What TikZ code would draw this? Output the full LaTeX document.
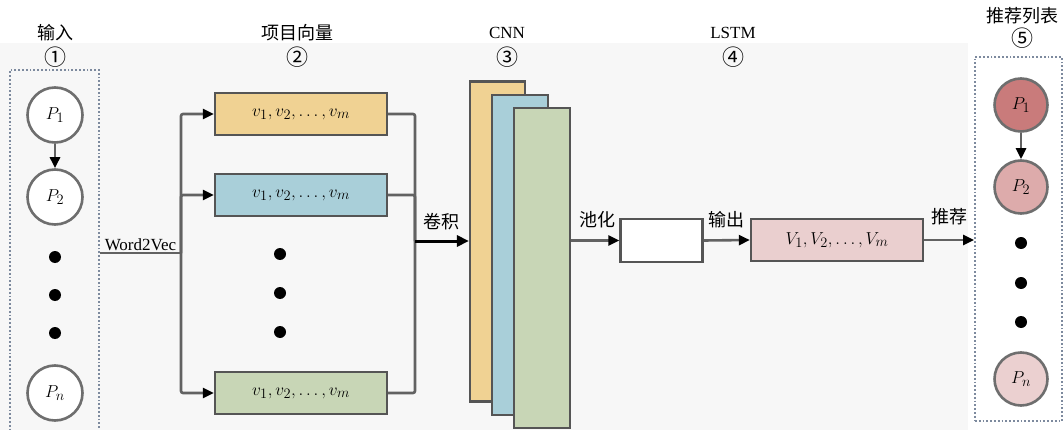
\documentclass[tikz,border=0pt]{standalone}
\usepackage{fontspec}
\setmainfont{Liberation Serif}
\newfontfamily\cjk{Noto Sans CJK SC}
\usetikzlibrary{arrows.meta}
\definecolor{bordr}{HTML}{555555}
\definecolor{lineg}{HTML}{626262}
\definecolor{bgg}{HTML}{F7F7F7}
\definecolor{orangef}{HTML}{F0D293}
\definecolor{bluef}{HTML}{A9CFD9}
\definecolor{greenf}{HTML}{C8D6B6}
\definecolor{pinkf}{HTML}{EACFCF}
\definecolor{rpa}{HTML}{C97B7B}
\definecolor{rpb}{HTML}{DDABAB}
\definecolor{rpn}{HTML}{EBD0D0}
\definecolor{dotb}{HTML}{7D8A9E}
\begin{document}
\begin{tikzpicture}[x=1pt,y=-1pt,
  font=\fontsize{17}{19}\selectfont,
  vecbox/.style={draw=bordr, line width=2.4pt, minimum width=172pt, minimum height=42pt, inner sep=0pt, font=\fontsize{19}{21}\selectfont},
  layer/.style={draw=bordr, line width=2.2pt, minimum width=56pt, minimum height=320pt, inner sep=0pt},
  pcirc/.style={circle, draw=bordr!85, line width=2.6pt, minimum size=55pt, inner sep=0pt, fill=white, font=\fontsize{19}{21}\selectfont},
  rcirc/.style={circle, draw=bordr!85, line width=2.6pt, minimum size=53pt, inner sep=0pt, font=\fontsize{19}{21}\selectfont},
  bigdot/.style={circle, fill=black, minimum size=12pt, inner sep=0pt},
  dotbox/.style={draw=dotb, dotted, line width=1.8pt, inner sep=0pt},
  conn/.style={draw=lineg, line width=2.6pt, rounded corners=2pt},
  arr/.style={conn, -{Triangle[length=11pt,width=10pt,black]}},
  title/.style={inner sep=0pt, anchor=center},
  cjkt/.style={inner sep=0pt, anchor=center, font=\cjk\fontsize{18}{20}\selectfont},
  numt/.style={inner sep=0pt, anchor=center, font=\cjk\fontsize{22}{24}\selectfont},
  lab/.style={inner sep=0pt, font=\cjk\fontsize{18}{20}\selectfont}
]
\useasboundingbox (0,0) rectangle (1064,430);
\fill[bgg] (0,43) rectangle (968,430);

% titles
\node[cjkt] (t1) at (55,33) {输入};
\node[numt] (n1) at (55,57) {①};
\node[cjkt] (t2) at (297,33) {项目向量};
\node[numt] (n2) at (297,57) {②};
\node[title] (t3) at (507,33) {CNN};
\node[numt] (n3) at (507,57) {③};
\node[title] (t4) at (733,33) {LSTM};
\node[numt] (n4) at (733,57) {④};
\node[cjkt] (t5) at (1022,16) {推荐列表};
\node[numt] (n5) at (1022,38) {⑤};

% input box
\node[dotbox, fill=bgg, minimum width=89pt, minimum height=364pt] (inbox) at (54.5,252) {};
\node[pcirc] (p1) at (55,115) {$P_1$};
\node[pcirc] (p2) at (55,197) {$P_2$};
\node[bigdot] (d1) at (55,257) {};
\node[bigdot] (d2) at (55,295) {};
\node[bigdot] (d3) at (55,333) {};
\node[pcirc] (pn) at (55,393) {$P_n$};
\draw[arr] (p1) -- (p2);

% vector boxes
\node[vecbox, fill=orangef] (b1) at (301,114) {$v_1, v_2, \ldots, v_m$};
\node[vecbox, fill=bluef] (b2) at (301,195) {$v_1, v_2, \ldots, v_m$};
\node[vecbox, fill=greenf] (b3) at (301,393) {$v_1, v_2, \ldots, v_m$};
\node[bigdot] (e1) at (280,254) {};
\node[bigdot] (e2) at (280,293) {};
\node[bigdot] (e3) at (280,332) {};

\coordinate (j1) at (181,253);
\draw[conn] (inbox.east |- j1) -- node[above=1pt, inner sep=0pt, text=black] {Word2Vec} (j1);
\draw[arr] (j1) |- (b1.west);
\draw[arr] (j1) |- (b2.west);
\draw[arr] (j1) |- (b3.west);

% CNN layers
\node[layer, fill=orangef, minimum width=55pt] (c1) at (497.5,241.5) {};
\node[layer, fill=bluef] (c2) at (520,255) {};
\node[layer, fill=greenf] (c3) at (542,268) {};

\coordinate (j2) at (415,241);
\draw[conn] (b1.east) -| (j2);
\draw[conn] (b2.east) -| (j2);
\draw[conn] (b3.east) -| (j2);
\draw[draw=black, line width=3pt, -{Triangle[length=12pt,width=11pt,black]}] (j2) -- (j2 -| c1.west);
\node[lab] (l1) at (441,222) {卷积};

% pooling / LSTM
\node[draw=bordr, line width=2.4pt, fill=white, minimum width=82pt, minimum height=43pt, inner sep=0pt] (pool) at (661.5,240.5) {};
\draw[arr] (pool.west -| c3.east) -- (pool.west);
\node[lab] (l2) at (597,220) {池化};

\node[vecbox, fill=pinkf, minimum height=42pt] (out) at (837,240) {$V_1,V_2,\ldots,V_m$};
\draw[arr] (pool.east) -- (out.west);
\node[lab] (l3) at (726,220) {输出};

% recommendation list
\node[dotbox, fill=white, minimum width=87pt, minimum height=364pt] (rbox) at (1018.5,239) {};
\draw[arr] (out.east) -- (out.east -| rbox.west);
\node[lab] (l4) at (949,217) {推荐};

\node[rcirc, fill=rpa] (r1) at (1021,105) {$P_1$};
\node[rcirc, fill=rpb] (r2) at (1021,187) {$P_2$};
\node[bigdot] (f1) at (1021,243) {};
\node[bigdot] (f2) at (1021,283) {};
\node[bigdot] (f3) at (1021,322) {};
\node[rcirc, fill=rpn] (rn) at (1021,379) {$P_n$};
\draw[arr] (r1) -- (r2);
\end{tikzpicture}
\end{document}
